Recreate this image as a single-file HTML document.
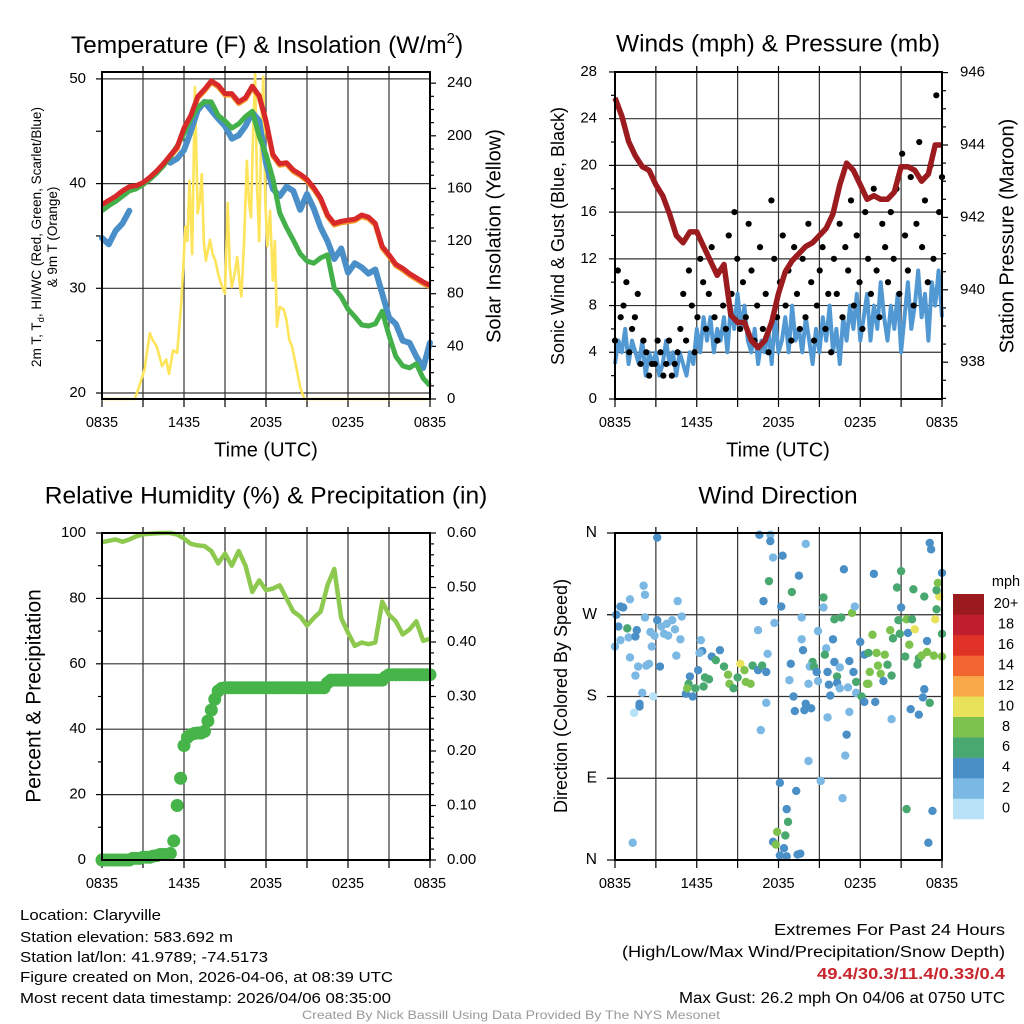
<!DOCTYPE html>
<html><head><meta charset="utf-8"><style>
html,body{margin:0;padding:0;background:#fff;}
svg{display:block;font-family:"Liberation Sans",Arial,sans-serif;}
</style></head><body>
<svg id="chart" width="1024" height="1024" viewBox="0 0 1024 1024" xmlns="http://www.w3.org/2000/svg">
<rect width="1024" height="1024" fill="#fff"/>
<g id="g1"></g>
<g id="g2"></g>
<g id="g3"></g>
<g id="g4"></g>

<text x="267" y="53" font-size="24.5" text-anchor="middle">Temperature (F) &amp; Insolation (W/m<tspan font-size="15" dy="-10">2</tspan><tspan dy="10">)</tspan></text>
<text x="778" y="45" font-size="24.5" text-anchor="middle" dominant-baseline="middle">Winds (mph) &amp; Pressure (mb)</text>
<text x="266" y="497" font-size="24.5" text-anchor="middle" dominant-baseline="middle">Relative Humidity (%) &amp; Precipitation (in)</text>
<text x="778" y="497" font-size="24.5" text-anchor="middle" dominant-baseline="middle">Wind Direction</text>

<text x="266" y="451" font-size="20" text-anchor="middle" dominant-baseline="middle">Time (UTC)</text>
<text x="778" y="451" font-size="20" text-anchor="middle" dominant-baseline="middle">Time (UTC)</text>

<g transform="translate(37,237) rotate(-90)" font-size="13.5" text-anchor="middle">
<text y="4">2m T, T<tspan font-size="9.5" dy="3">d</tspan><tspan dy="-3">, HI/WC (Red, Green, Scarlet/Blue)</tspan></text>
<text y="20">&amp; 9m T (Orange)</text></g>
<text transform="translate(495,236) rotate(-90)" font-size="20" text-anchor="middle" dominant-baseline="middle">Solar Insolation (Yellow)</text>
<text transform="translate(559,236) rotate(-90)" font-size="18" text-anchor="middle" dominant-baseline="middle">Sonic Wind &amp; Gust (Blue, Black)</text>
<text transform="translate(1008,236) rotate(-90)" font-size="20" text-anchor="middle" dominant-baseline="middle">Station Pressure (Maroon)</text>
<text transform="translate(35,696) rotate(-90)" font-size="21" text-anchor="middle" dominant-baseline="middle">Percent &amp; Precipitation</text>
<text transform="translate(562,696) rotate(-90)" font-size="18" text-anchor="middle" dominant-baseline="middle">Direction (Colored By Speed)</text>

<g font-size="15">
<text x="20" y="920" textLength="141" lengthAdjust="spacingAndGlyphs">Location: Claryville</text>
<text x="20" y="942" textLength="213" lengthAdjust="spacingAndGlyphs">Station elevation: 583.692 m</text>
<text x="20" y="962" textLength="248" lengthAdjust="spacingAndGlyphs">Station lat/lon: 41.9789; -74.5173</text>
<text x="20" y="982" textLength="373" lengthAdjust="spacingAndGlyphs">Figure created on Mon, 2026-04-06, at 08:39 UTC</text>
<text x="20" y="1003" textLength="371" lengthAdjust="spacingAndGlyphs">Most recent data timestamp: 2026/04/06 08:35:00</text>
</g>
<g font-size="15.5">
<text x="774" y="935" textLength="231" lengthAdjust="spacingAndGlyphs">Extremes For Past 24 Hours</text>
<text x="622" y="957" textLength="383" lengthAdjust="spacingAndGlyphs">(High/Low/Max Wind/Precipitation/Snow Depth)</text>
<text x="817" y="979" textLength="188" lengthAdjust="spacingAndGlyphs" fill="#c9252c" font-weight="bold">49.4/30.3/11.4/0.33/0.4</text>
<text x="679" y="1003" textLength="326" lengthAdjust="spacingAndGlyphs">Max Gust: 26.2 mph On 04/06 at 0750 UTC</text>
</g>
<text x="302" y="1019" font-size="12" fill="#999" textLength="418" lengthAdjust="spacingAndGlyphs">Created By Nick Bassill Using Data Provided By The NYS Mesonet</text>
</svg>
<script>
// ---------- data (hour index from 0835 UTC, 0.5h step unless noted) ----------
const xTickLabels = ["0835","1435","2035","0235","0835"];
const tempTicks = [20,30,40,50];
const solarTicks = [0,40,80,120,160,200,240];
const tempRed = [38.0,38.4,38.8,39.3,39.7,39.8,40.1,40.6,41.2,41.9,42.7,43.5,45.3,46.5,48.3,49.0,49.8,49.4,48.6,48.6,47.8,48.2,49.3,48.4,46.0,42.8,41.9,42.0,41.3,40.9,40.4,39.6,38.6,37.0,36.2,36.4,36.5,36.6,37.0,36.8,36.2,34.0,33.2,32.3,31.9,31.4,31.0,30.6,30.3];
const tempGreen = [37.4,37.9,38.3,38.8,39.3,39.5,39.9,40.4,41.0,41.7,42.6,43.6,44.8,46.2,47.3,47.8,47.8,46.5,46.0,45.3,45.7,46.4,46.9,44.5,42.8,40.5,37.2,35.8,34.6,33.3,32.6,32.4,32.9,33.2,30.0,29.2,28.0,27.3,26.5,26.4,26.6,27.8,25.5,23.5,22.6,22.4,22.8,21.4,20.7];
const tempBlue = [34.8,34.2,35.5,36.2,37.4,null,37.8,null,null,null,42.0,42.4,43.2,45.0,47.0,47.8,47.0,46.2,45.5,44.3,44.6,45.5,46.8,46.0,42.0,39.5,38.8,39.7,39.3,37.5,39.0,37.6,35.8,34.5,32.8,33.8,31.5,32.4,32.0,31.4,31.8,29.5,27.2,26.6,25.0,24.8,23.5,22.4,24.8];
const solarHours = [0,2.4,2.7,3.1,3.5,3.7,4.0,4.4,4.7,4.9,5.2,5.5,5.8,6.1,6.25,6.4,6.6,6.8,7.0,7.15,7.3,7.45,7.6,7.9,8.1,8.3,8.5,8.7,9.0,9.2,9.35,9.5,9.7,9.9,10.05,10.2,10.4,10.6,10.75,10.9,11.05,11.2,11.35,11.5,11.65,11.8,11.95,12.1,12.3,12.5,12.65,12.8,13.0,13.3,13.5,13.7,13.9,14.1,14.3,14.5,14.8,24];
const solarValues = [0,0,9,22,50,45,40,25,30,19,37,35,73,131,120,166,110,237,141,150,171,120,105,121,110,105,95,88,80,149,100,85,95,108,90,78,120,181,150,138,200,247,160,120,200,245,150,116,143,90,120,55,70,68,60,45,40,30,20,9,0,0];

const windTicks = [0,4,8,12,16,20,24,28];
const pressTicks = [938,940,942,944,946];
// 0.25h step
const windSpeed = [3,5,4,6,3,5,4,3,5,2,4,3,4,2,3,5,3,4,2,4,3,2,4,3,6, 4,7,5,7,4,6,5,7,4,8,6,9,6,8,5,4,6,3,5,4,6,3,7,4, 5,7,4,8,5,6,4,7,5,3,6,4,7,5,8,4,6,3,7,5,8,6,9,5, 7,9,5,8,6,10,7,5,8,6,9,4,7,10,6,8,11,7,9,5,10,8,11,7];
// evenly spaced over 24h
const windGust = [5,11,7,8,10,4,6,7,9,3,5,4,2,3,3,5,4,2,3,5,2, 3,4,6,9,5,11,8,4,7,12,10,6,9,13,7,5,11,8,6, 14,9,16,12,6,10,7,15,11,5,8,13,6,9,4,17,12,7,10, 14,8,11,5,13,9,6,12,7,15,10,5,8,11,13,6,9,4,12, 9,15,7,13,11,17,8,14,10,6,16,12,9,18,11,7,15,13,10, 16,12,18,9,21,14,11,19,8,15,22,13,17,10,20,12,26,16,19];
const pressure = [945.3,944.8,944.1,943.7,943.4,943.3,942.9,942.6,942.1,941.5,941.3,941.6,941.6,941.2,940.8,940.4,940.7,939.3,939.1,939.1,938.6,938.4,938.6,939.1,939.9,940.5,940.8,941.0,941.2,941.3,941.5,941.7,942.1,942.9,943.5,943.3,942.9,942.5,942.6,942.5,942.5,942.7,943.4,943.4,943.3,943.0,943.2,944.0,944.0];

const rhTicks = [0,20,40,60,80,100];
const precipTicks = ["0.00","0.10","0.20","0.30","0.40","0.50","0.60"];
const relHum = [97.2,97.6,98,97.3,98,99,99.6,99.8,99.9,100,100,99.5,98.3,96.7,96.2,96,94.5,90.7,93.7,90,94.5,90,82,85.5,82.5,83,84,80,76,74.5,71.7,74,76,84,89,74,69.5,65.5,66.5,66,66.5,79,75,73,69,70.5,73,67,67.6];
// 0.25h step
const precip = [0,0,0,0,0,0,0,0,0,0.003,0.003,0.003,0.005,0.005,0.005, 0.007,0.008,0.01,0.01,0.01,0.012, 0.035,0.1,0.15,0.21,0.225,0.23,0.232,0.233,0.233,0.236,0.255,0.275,0.295,0.31,0.315,0.316, 0.316,0.316,0.316,0.316,0.316,0.316,0.316,0.316,0.316,0.316,0.316,0.316,0.316,0.316,0.316,0.316,0.316,0.316,0.316,0.316,0.316,0.316,0.316,0.316,0.316,0.316,0.316,0.316,0.316,0.325, 0.33,0.33,0.33,0.33,0.33,0.33,0.33,0.33,0.33,0.33,0.33,0.33,0.33,0.33,0.33,0.33, 0.336,0.34,0.34,0.34,0.34,0.34,0.34,0.34,0.34,0.34,0.34,0.34,0.34,0.34];

const dirTickLabels = ["N","E","S","W","N"];
const speedLabels = ["0","2","4","6","8","10","12","14","16","18","20+"];
const dirHours = [0.1,0.4,0.6,0.25,0.9,0.4,1,0,1.6,1.5,1.1,1.7,1.5,2,1.8,1.8,1.4,2.8,1.1,2.1,2.2,3.1,2.2,3.1,2.6,2.9,3.4,3.8,4.2,3.6,3.9,4.4,4.9,4.6,4.8,2.7,2.5,2.3,3.3,4.5,6.3,6.4,6.2,6.1,5.5,5.4,5.2,5.7,5.3,5.9,6.5,6.6,6.9,7.1,7.4,7.7,8,8.3,8.4,8.7,9,9.2,9.5,9.6,9.95,10.1,10.5,10.8,11.2,11.1,10.5,10.6,11.4,11.4,11.6,12.3,11.3,10.9,11.7,12.2,11.1,10.7,12.1,13.3,12.6,12.7,11.9,12.5,11.6,11.8,12.4,12.1,12.6,13.4,13.6,12.98,13.5,14,13.7,13.7,13.8,12.9,12.8,13.1,13.2,14,13.9,14.4,14.2,14.5,14.3,14.6,14.8,14.2,14.9,15.3,15.3,14.9,15.5,15.4,15.6,15.7,15.8,15.6,15.1,16,16.1,16.3,16.1,16.6,16.8,16.5,16.3,16.5,17.1,17.2,17,16.9,16.7,17.4,17.6,17.2,17.5,17.7,17.7,18,18.1,18.3,18.5,18.6,18.7,18.3,18.6,18.9,19,19.1,19.2,19.3,19.5,19.7,19.8,20,20.2,20.3,20.3,20.4,20.7,20.8,20.9,21,21,21.3,21.4,21.5,21.6,21.7,21.9,21.8,22,22.3,22.2,22.5,22.3,22.7,22.6,22.7,22.9,22.9,23.1,23.5,23.8,23.4,23.6,23.7,23.6,24,24,24,23.1,23.2,21.4,23.3,23,1.3];
const dirValues = [270,279,278,257,255,242,245,235,253,246,223,213,203,184,172,169,162,180,287,302,292,355,267,264,251,247,257,260,264,249,247,254,268,285,243,235,216,214,213,225,242,230,228,209,202,194,183,180,189,189,191,201,199,224,220,231,213,204,194,189,201,216,209,196,194,214,209,214,227,207,253,358,358,351,333,335,307,285,261,279,173,143,85,76,56,42,31,27,20,17,13,5,4,6,7,295,313,348,267,243,231,216,198,180,164,172,165,167,109,218,213,213,207,194,197,289,278,252,233,226,207,193,181,157,87,243,218,202,265,267,320,212,195,189,190,163,138,115,68,272,279,219,207,196,184,240,180,174,194,194,207,226,228,248,315,174,228,214,205,197,226,215,253,203,155,244,300,264,249,318,278,224,265,250,237,166,298,265,254,222,215,225,160,188,179,290,241,229,173,265,290,225,297,305,276,224,249,316,349,342,56,54,19,19];
const dirSpeeds = [4,4,4,4,6,3,3,3,4,4,3,3,3,3,4,4,1,1,3,3,3,4,3,4,3,3,3,3,3,3,3,3,3,3,3,3,3,3,4,3,3,4,3,4,4,6,4,4,8,6,6,6,6,4,6,4,6,8,8,6,6,10,8,8,8,6,4,6,3,4,3,4,3,4,3,4,6,4,3,4,3,3,4,4,4,6,8,6,4,8,4,4,4,4,4,6,4,3,3,3,4,4,3,4,4,4,4,4,3,6,3,6,4,3,3,6,3,3,3,6,4,4,4,3,3,4,4,6,6,6,4,3,4,3,3,3,4,3,3,8,3,4,4,6,3,4,6,4,8,8,8,4,6,8,4,4,8,8,8,4,8,6,8,6,3,6,6,6,6,6,4,6,8,4,8,4,6,6,10,6,6,8,4,4,4,6,4,8,6,10,10,8,6,8,6,8,6,4,4,4,6,4,4,3];

// ---------- helpers ----------
const NS="http://www.w3.org/2000/svg";
function mk(parent,tag,attrs){const e=document.createElementNS(NS,tag);for(const k in attrs)e.setAttribute(k,attrs[k]);parent.appendChild(e);return e;}
function txt(parent,x,y,s,anchor,size){const t=mk(parent,"text",{x:x,y:y,"font-size":size||14,"text-anchor":anchor||"middle","dominant-baseline":"middle"});t.textContent=s;return t;}
function pathFrom(xs,ys){let d="",pen=false;for(let i=0;i<xs.length;i++){if(ys[i]===null||ys[i]===undefined){pen=false;continue;}d+=(pen?"L":"M")+xs[i].toFixed(1)+","+ys[i].toFixed(1);pen=true;}return d;}
function mapN(arr,f){return arr.map(v=>v===null?null:f(v));}

function frame(g,L,R,T,B,hLines){
  const grid=mk(g,"g",{stroke:"#333","stroke-width":1.2});
  
  
  for(let h=3;h<24;h+=3){const x=L+h*(R-L)/24;mk(grid,"line",{x1:x,x2:x,y1:T,y2:B});mk(grid,"line",{x1:x,x2:x,y1:T-6,y2:T,stroke:"#000"});}
  hLines.forEach(y=>mk(grid,"line",{x1:L,x2:R,y1:y,y2:y}));
  const xt=mk(g,"g",{stroke:"#000","stroke-width":1.2});
  
  
  for(let h=0;h<=24;h+=3){const x=L+h*(R-L)/24;mk(xt,"line",{x1:x,x2:x,y1:B,y2:B+8});}
  xTickLabels.forEach((s,i)=>{const t=txt(g,L+i*6*(R-L)/24,B+24,s,"middle",14.5);});
}
function border(g,L,R,T,B){const r=mk(g,"rect",{x:L,y:T,width:R-L,height:B-T,fill:"none",stroke:"#000","stroke-width":2});}

// ---------- panel 1 ----------
(function(){
  const g=document.getElementById("g1");
  const L=102,R=430,T=72,B=399;
  const x=h=>L+h*(R-L)/24;
  const yT=v=>393-(v-20)*10.47;
  const yS=v=>399-v*1.316;
  frame(g,L,R,T,B,tempTicks.map(yT));
  const ax=mk(g,"g",{stroke:"#000","stroke-width":1.2});
  for(let v=20;v<=50;v+=5)mk(ax,"line",{x1:L-6,x2:L,y1:yT(v),y2:yT(v)});
  for(let v=0;v<=240;v+=10)mk(ax,"line",{x1:R,x2:R+(v%40===0?6:4),y1:yS(v),y2:yS(v)});
  tempTicks.forEach(v=>{const t=txt(g,86,yT(v),String(v),"end",15);});
  solarTicks.forEach(v=>{const t=txt(g,447,yS(v),String(v),"start",15);});
  const hx=tempRed.map((_,i)=>x(i*0.5));
  const ys=mk(g,"path",{d:pathFrom(solarHours.map(x),solarValues.map(yS)),fill:"none",stroke:"#fde45a","stroke-width":2.6,"stroke-linejoin":"round"});
  
  
  const o=mk(g,"path",{d:pathFrom(hx,tempRed.map(v=>yT(v-0.15))),fill:"none",stroke:"#f39a2c","stroke-width":5,"stroke-linejoin":"round"});
  
  
  const b=mk(g,"path",{d:pathFrom(hx,mapN(tempBlue,yT)),fill:"none",stroke:"#4a8fc8","stroke-width":6,"stroke-linejoin":"round","stroke-linecap":"round"});
  
  
  const gr=mk(g,"path",{d:pathFrom(hx,tempGreen.map(yT)),fill:"none",stroke:"#43b04a","stroke-width":5,"stroke-linejoin":"round"});
  
  
  const r=mk(g,"path",{d:pathFrom(hx,tempRed.map(yT)),fill:"none",stroke:"#d7282a","stroke-width":5,"stroke-linejoin":"round"});
  
  
  border(g,L,R,T,B);
})();

// ---------- panel 2 ----------
(function(){
  const g=document.getElementById("g2");
  const L=615,R=942,T=72,B=399;
  const x=h=>L+h*(R-L)/24;
  const yW=v=>399-v*11.68;
  const yP=p=>145-(p-944)*36.2;
  frame(g,L,R,T,B,windTicks.filter(v=>v>0&&v<28).map(yW));
  const ax=mk(g,"g",{stroke:"#000","stroke-width":1.2});
  for(let v=0;v<=28;v+=2)mk(ax,"line",{x1:L-(v%4===0?6:4),x2:L,y1:yW(v),y2:yW(v)});
  for(let p=937;p<=946;p+=0.5)mk(ax,"line",{x1:R,x2:R+(p%2===0?6:4),y1:yP(p),y2:yP(p)});
  windTicks.forEach(v=>{const t=txt(g,597,yW(v),String(v),"end",15);});
  pressTicks.forEach(v=>{const t=txt(g,960,yP(v),String(v),"start",15);});
  const w=mk(g,"path",{d:pathFrom(windSpeed.map((_,i)=>x(i*0.25)),windSpeed.map(yW)),fill:"none",stroke:"#5299d3","stroke-width":4,"stroke-linejoin":"round"});
  
  
  const gd=mk(g,"g",{fill:"#000"});
  
  
  windGust.forEach((v,i)=>{const c=mk(gd,"circle",{cx:x(i*24/(windGust.length-1)),cy:yW(v),r:3.1});});
  const p=mk(g,"path",{d:pathFrom(pressure.map((_,i)=>x(i*0.5)),pressure.map(yP)),fill:"none",stroke:"#9b1b1e","stroke-width":5.5,"stroke-linejoin":"round"});
  
  
  border(g,L,R,T,B);
})();

// ---------- panel 3 ----------
(function(){
  const g=document.getElementById("g3");
  const L=102,R=430,T=533,B=860;
  const x=h=>L+h*(R-L)/24;
  const yR=v=>860-v*3.27;
  const yPr=v=>860-v*545;
  frame(g,L,R,T,B,rhTicks.filter(v=>v>0&&v<100).map(yR));
  const ax=mk(g,"g",{stroke:"#000","stroke-width":1.2});
  for(let v=0;v<=100;v+=10)mk(ax,"line",{x1:L-(v%20===0?6:4),x2:L,y1:yR(v),y2:yR(v)});
  for(let v=0;v<=60;v+=2)mk(ax,"line",{x1:R,x2:R+(v%10===0?6:4),y1:yPr(v/100),y2:yPr(v/100)});
  rhTicks.forEach(v=>{const t=txt(g,86,yR(v),String(v),"end",15);});
  precipTicks.forEach(s=>{const t=txt(g,447,yPr(parseFloat(s)),s,"start",15);});
  const rh=mk(g,"path",{d:pathFrom(relHum.map((_,i)=>x(i*0.5)),relHum.map(yR)),fill:"none",stroke:"#8dc94e","stroke-width":4.5,"stroke-linejoin":"round"});
  
  
  const pg=mk(g,"g",{fill:"#46b449"});
  
  
  precip.forEach((v,i)=>{const c=mk(pg,"circle",{cx:x(i*0.25),cy:yPr(v),r:6.5});});
  border(g,L,R,T,B);
})();

// ---------- panel 4 ----------
(function(){
  const g=document.getElementById("g4");
  const L=615,R=942,T=533,B=860;
  const x=h=>L+h*(R-L)/24;
  const yD=d=>860-d*327/360;
  frame(g,L,R,T,B,[90,180,270].map(yD));
  const ax=mk(g,"g",{stroke:"#000","stroke-width":1.2});
  for(let d=0;d<=360;d+=90)mk(ax,"line",{x1:L-8,x2:L,y1:yD(d),y2:yD(d)});
  dirTickLabels.forEach((s,i)=>{const t=txt(g,597,yD(i*90),s,"end",15.5);});
  const colors=["#b7e2f7","#7bb8e3","#4a8fc6","#48a86f","#7dc24d","#e8e25a","#f9a848","#f26430","#e03127","#be1e2d","#9b1a1e"];
  const dg=mk(g,"g",{});
  
  
  dirHours.forEach((h,i)=>{const k=Math.min(10,Math.floor(dirSpeeds[i]/2));const c=mk(dg,"circle",{cx:x(h),cy:yD(dirValues[i]),r:4.2,fill:colors[k]});});
  border(g,L,R,T,B);
  // colorbar
  const cb=mk(g,"g",{});
  
  
  const top=594,h=20.45;
  speedLabels.forEach((s,i)=>{const yy=top+(10-i)*h;const r=mk(cb,"rect",{x:953,y:yy,width:31,height:h+0.3,fill:colors[i]});const t=txt(cb,1006,yy+h/2,s,"middle",14.5);});
  const u=txt(cb,1006,582,"mph","middle",14.5);
  
  
})();
</script>
</body></html>
